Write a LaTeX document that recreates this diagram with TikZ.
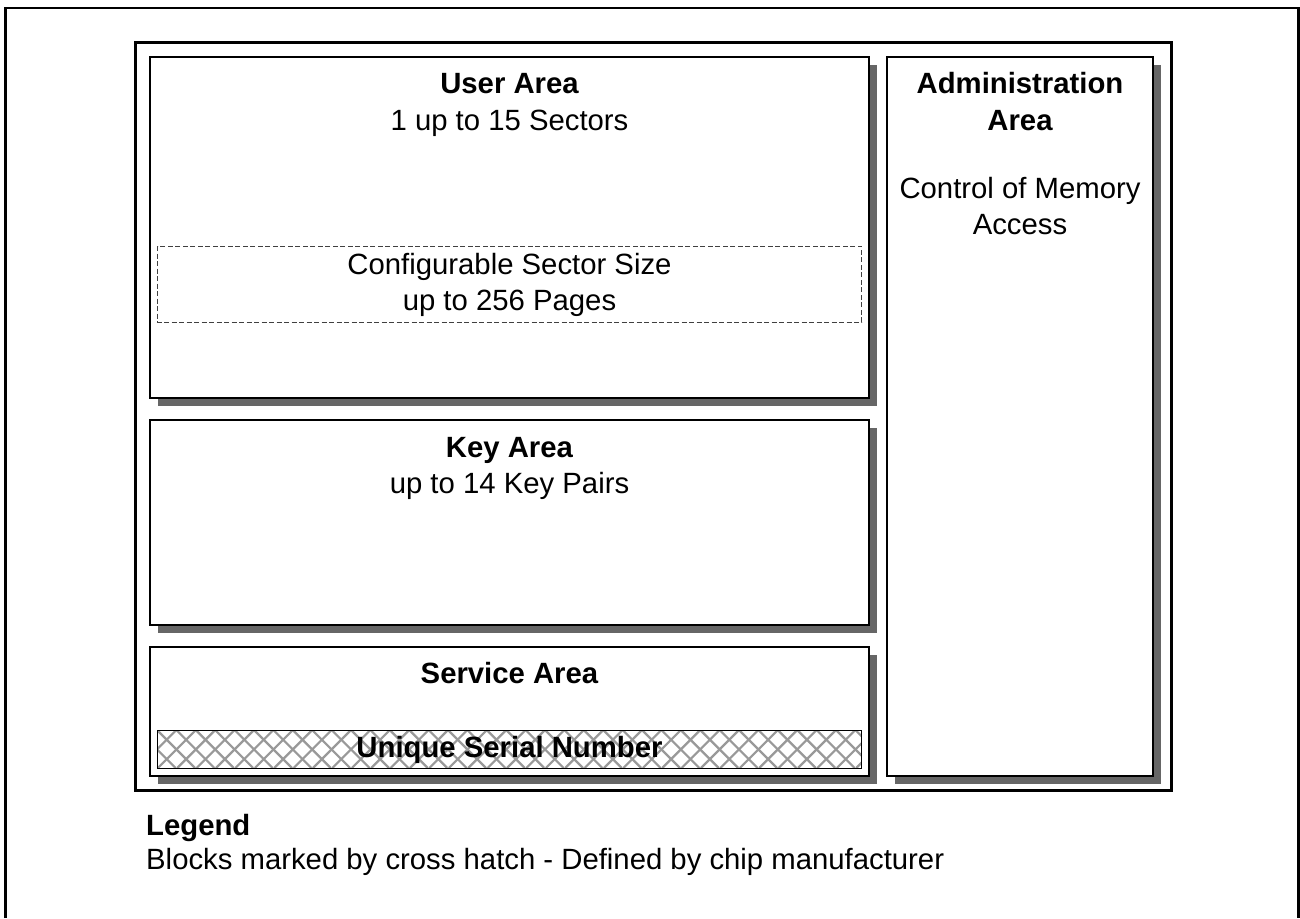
\documentclass[tikz,border=0pt]{standalone}
\usepackage{fontspec}
\setmainfont{Liberation Sans}
\definecolor{shadowgray}{HTML}{666666}
\definecolor{hatchgray}{HTML}{999999}
\tikzset{
  x=1pt,y=-1pt,
  areabox/.style={draw=black,line width=2pt,fill=white},
  shadowbox/.style={fill=shadowgray,draw=none},
  lab/.style={anchor=base,inner sep=0pt,font=\fontsize{29.3}{30}\selectfont},
  blab/.style={lab,font=\fontsize{29.3}{30}\selectfont\bfseries},
  leftlab/.style={lab,anchor=base west},
  hatchline/.style={draw=hatchgray,line width=2.2pt},
}
\begin{document}
\begin{tikzpicture}
\useasboundingbox (0,0) rectangle (1300,918);
\fill[white] (0,0) rectangle (1300,918);
% page frame, open at the bottom
\draw[line width=2.4pt] (5.5,918) -- (5.5,8) -- (1298.5,8) -- (1298.5,918);
% main frame
\draw[line width=3pt] (135,42) rectangle (1171.5,790.5);
% shadows
\fill[shadowbox] (158,65) rectangle (877,405.5);
\fill[shadowbox] (158,428) rectangle (877,632.5);
\fill[shadowbox] (158,655) rectangle (877,784);
\fill[shadowbox] (895,65) rectangle (1161,784);
% boxes
\draw[areabox] (150,57) rectangle (869,398);
\draw[areabox] (150,420) rectangle (869,625);
\draw[areabox] (150,647) rectangle (869,776);
\draw[areabox] (887,57) rectangle (1153,776);
% dashed
\draw[line width=0.8pt,dash pattern=on 5pt off 2.5pt,draw=black!75] (157.5,246) rectangle (861.5,322);
% hatch
\begin{scope}
\clip (157.5,730) rectangle (861.5,768);
\foreach \i in {-4,...,42}{
  \draw[hatchline] ({157+\i*19.4},730) -- ({157+\i*19.4+38},768);
  \draw[hatchline] ({157+\i*19.4},730) -- ({157+\i*19.4-38},768);
}
\end{scope}
\draw[line width=1pt] (157.5,730) rectangle (861.5,768);
% text
\node[blab] (t1) at (509.5,93) {User Area};
\node[lab] (t2) at (509.5,130) {1 up to 15 Sectors};
\node[lab] (t3) at (509.5,274) {Configurable Sector Size};
\node[lab] (t4) at (509.5,310.5) {up to 256 Pages};
\node[blab] (t5) at (509.5,457) {Key Area};
\node[lab] (t6) at (509.5,493.5) {up to 14 Key Pairs};
\node[blab] (t7) at (509.5,683.5) {Service Area};
\node[blab] (t8) at (509.5,757) {Unique Serial Number};
\node[blab] (t9) at (1020,93.5) {Administration};
\node[blab] (t10) at (1020,130) {Area};
\node[lab] (t11) at (1020,198.5) {Control of Memory};
\node[lab] (t12) at (1020,234.5) {Access};
\node[leftlab,font=\fontsize{29.3}{30}\selectfont\bfseries] (t13) at (146,835) {Legend};
\node[leftlab] (t14) at (146,869.5) {Blocks marked by cross hatch - Defined by chip manufacturer};
\end{tikzpicture}
\end{document}
